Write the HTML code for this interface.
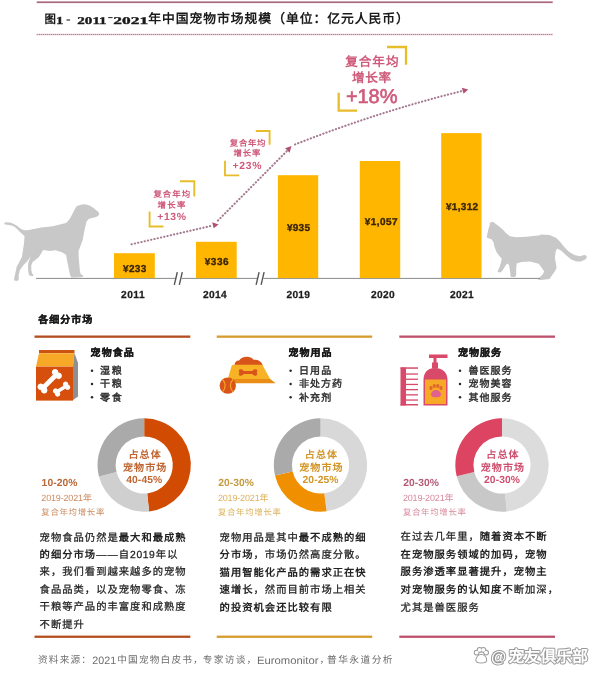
<!DOCTYPE html>
<html lang="zh-CN"><head><meta charset="utf-8">
<style>
html,body{margin:0;padding:0;background:#fff;}
body{width:600px;height:677px;overflow:hidden;position:relative;font-family:"Liberation Sans",sans-serif;}
svg{position:absolute;left:0;top:0;filter:blur(0.5px);}
svg text{font-family:"Liberation Sans",sans-serif;}
</style></head><body>
<svg text-rendering="geometricPrecision" width="600" height="677" viewBox="0 0 600 677">
<rect x="36.7" y="1.4" width="516" height="1.7" fill="#a8677a"/>
<line x1="36.7" y1="34.5" x2="553" y2="34.5" stroke="#fbe6ec" stroke-width="2.4"/>
<line x1="36.7" y1="34.5" x2="553" y2="34.5" stroke="#8f7480" stroke-width="1" stroke-dasharray="1.1 0.9"/>
<text x="44.60" y="22.94" font-size="11.5" fill="#1a1a1a" font-weight="bold">图</text>
<text x="55.90" y="24.22" font-size="10.6" fill="#1a1a1a" font-weight="bold" textLength="7.40" lengthAdjust="spacingAndGlyphs" style="font-family:'Liberation Serif',serif" stroke="#1a1a1a" stroke-width="0.35">1</text>
<rect x="66.5" y="19.4" width="3.6" height="1.2" fill="#333"/>
<text x="77.30" y="24.04" font-size="10.4" fill="#1a1a1a" font-weight="bold" textLength="29.40" lengthAdjust="spacingAndGlyphs" style="font-family:'Liberation Serif',serif" stroke="#1a1a1a" stroke-width="0.35">2011</text>
<rect x="108.2" y="17.0" width="4.4" height="1.1" fill="#333"/>
<text x="113.30" y="24.04" font-size="10.4" fill="#1a1a1a" font-weight="bold" textLength="34.80" lengthAdjust="spacingAndGlyphs" style="font-family:'Liberation Serif',serif" stroke="#1a1a1a" stroke-width="0.35">2021</text>
<text x="148.20" y="23.21" font-size="12.8" fill="#1a1a1a" font-weight="bold" textLength="260.68">年中国宠物市场规模（单位：亿元人民币）</text>
<path fill="#c8c8c8" d="M5,222.6 C10,221 15,223.8 20,228.2 C23,230.5 27,230.8 31.4,229.5 L41.4,227.6 L52.7,226.3 L58,225 L66,223 C69,221 71,217 72.6,213.6 L75.3,208.3 C76.5,206 79,204.8 84.6,204.3 C88,204.5 91,206 93.9,208.3 L97.2,211 C99,212 99.6,214 98.5,215.6 C97,217 94,217.8 91.2,218.3 L88.6,219 L86.6,221.6 L85.2,227 L83.9,233.6 L82.6,240.2 L80.6,245.5 L78.6,250.9 L78.6,256.2 L79.3,264.2 L79.9,270.8 L80.6,274.1 L83.2,275.5 L82.6,276.9 L75.3,277.5 L71.3,277.5 L70,274.8 L68.6,268.1 L67.3,261.5 L66,254.8 L62,252.2 L55.3,250.2 L50,250.9 L43,250 L41.3,253.3 L38.7,257.3 L35.3,260 L32.7,262 L31.3,265.3 L31.3,270 L32,273.3 L33.6,275.3 L32.5,276.3 L29.3,275.6 L28.3,272 L28,266.7 L28.3,262.7 L30,258 L30.7,256.3 L27.3,261.3 L23.3,265.3 L20,270 L18.7,274.7 L18.7,279.3 L18,280.7 L14.7,280.7 L14,279.3 L15.3,273.3 L16.7,266.7 L19.3,262 L22,256.7 L23,250 L24,243.3 L24.3,240 L24.5,236 C22,234 19.5,231.5 17.3,229.3 C15,226.8 12.5,225.4 9,225.1 L5.2,224.6 C4,224.2 4,222.8 5,222.6 Z"/>
<path fill="#c8c8c8" d="M489.8,222.8 L492.9,221.7 L495.5,223.8 L499.1,226.4 L502.8,229.5 L505.9,233.1 L510,236.2 L516.2,237.2 L526.6,236.7 L540,235.2 L540.8,234.5 L549.5,235 L556,237.8 L560.3,242.1 L564.7,247.5 L569,251.8 L574.4,255.1 L579.8,256.2 L584.2,255.1 L586.3,255.6 L586.9,257.3 L585.3,259.4 L580.9,261.6 L576.6,261.6 L571.2,259.4 L565.8,255.1 L561.4,250.8 L557.1,248.6 L555.5,251.8 L554.9,258.3 L556,263.8 L556.5,268.1 L554.9,271.3 L551.7,275.7 L549.5,278.9 L540.8,280 L537.6,279.5 L539.8,277.3 L543,274 L544.1,271.3 L541.9,268.1 L538.7,263.8 L530,261.6 L521.4,262 L516.7,263.6 L516.2,268.8 L516.2,275 L515.2,277.1 L511,277.1 L510.5,276 L510,270.9 L509,264.7 L506.9,263.6 L504.8,266.7 L502.2,270.9 L500.2,272.4 L497.6,271.9 L498.1,270.3 L499.7,266.7 L501.2,261.6 L501.7,258.4 L499.7,256.4 L496.6,252.2 L494.5,247.1 L493.4,241.9 L491.4,239.3 L488.3,238.3 L486.7,237.2 L487.2,234.7 L488.3,229.5 L489.8,224.8 Z"/>
<line x1="36" y1="278.4" x2="540" y2="278.4" stroke="#8a8a8a" stroke-width="1"/>
<rect x="114" y="253.2" width="40.8" height="24.9" fill="#feb600"/>
<rect x="196" y="241.8" width="40.7" height="36.3" fill="#feb600"/>
<rect x="277.9" y="175.2" width="40.3" height="102.9" fill="#feb600"/>
<rect x="359.8" y="161" width="40.4" height="117.1" fill="#feb600"/>
<rect x="441.2" y="133.1" width="40.3" height="145.0" fill="#feb600"/>
<path d="M177.0,275.5 L182.5,275.5 L181.1,281.5 L175.6,281.5 Z" fill="#fff"/>
<g stroke="#555" stroke-width="1.4"><line x1="177.3" y1="272.2" x2="174.3" y2="284.8"/><line x1="182.3" y1="272.2" x2="179.3" y2="284.8"/></g>
<path d="M258.8,275.5 L264.3,275.5 L262.9,281.5 L257.4,281.5 Z" fill="#fff"/>
<g stroke="#555" stroke-width="1.4"><line x1="259.1" y1="272.2" x2="256.1" y2="284.8"/><line x1="264.1" y1="272.2" x2="261.1" y2="284.8"/></g>
<text x="122.95" y="271.60" font-size="10" fill="#3a2404" font-weight="bold" textLength="23.40" stroke="#3a2404" stroke-width="0.35">¥233</text>
<text x="204.65" y="264.50" font-size="10" fill="#3a2404" font-weight="bold" textLength="24.00" stroke="#3a2404" stroke-width="0.35">¥336</text>
<text x="286.95" y="231.10" font-size="10" fill="#3a2404" font-weight="bold" textLength="23.00" stroke="#3a2404" stroke-width="0.35">¥935</text>
<text x="364.85" y="224.50" font-size="10" fill="#3a2404" font-weight="bold" textLength="32.60" stroke="#3a2404" stroke-width="0.35">¥1,057</text>
<text x="445.95" y="210.40" font-size="10" fill="#3a2404" font-weight="bold" textLength="32.20" stroke="#3a2404" stroke-width="0.35">¥1,312</text>
<text x="121.00" y="298.17" font-size="10.2" fill="#1c1c1c" font-weight="bold" textLength="23.60" stroke="#1c1c1c" stroke-width="0.25">2011</text>
<text x="203.10" y="298.17" font-size="10.2" fill="#1c1c1c" font-weight="bold" textLength="23.60" stroke="#1c1c1c" stroke-width="0.25">2014</text>
<text x="286.40" y="298.17" font-size="10.2" fill="#1c1c1c" font-weight="bold" textLength="23.60" stroke="#1c1c1c" stroke-width="0.25">2019</text>
<text x="371.00" y="298.17" font-size="10.2" fill="#1c1c1c" font-weight="bold" textLength="23.60" stroke="#1c1c1c" stroke-width="0.25">2020</text>
<text x="450.10" y="298.17" font-size="10.2" fill="#1c1c1c" font-weight="bold" textLength="23.60" stroke="#1c1c1c" stroke-width="0.25">2021</text>
<g stroke="#a47a90" stroke-width="2.1" stroke-linecap="round" stroke-dasharray="0.3 3.05" fill="none"><line x1="131.5" y1="244.3" x2="212.5" y2="225.6"/><line x1="218" y1="220.5" x2="286.8" y2="151.2"/><path d="M295,144.5 Q379,111.5 463,90.8"/></g>
<g fill="#b24f74"><path d="M218.6,224.4 L212.2,222.3 L213.6,228.2 Z"/><path d="M291.5,146 L285.2,148.3 L289.6,152.8 Z"/><path d="M468.2,89.4 L461.8,87.8 L463.6,93.8 Z"/></g>
<g stroke="#e8bd2c" stroke-width="2.3" fill="none"><g stroke-width="1.9"><path d="M180,181.3 H194.3 V196.5"/><path d="M149.6,211.6 V226.5 H163.5"/><path d="M255.8,131 H269.6 V144.7"/><path d="M225,160.8 V175.4 H239.3"/></g><path d="M387,47 H406 V64.7"/><path d="M338.7,92.7 V110.6 H357"/></g>
<text x="153.40" y="196.82" font-size="8.4" fill="#cf5a7a" font-weight="bold" textLength="36.60">复合年均</text>
<text x="157.60" y="207.52" font-size="8.4" fill="#cf5a7a" font-weight="bold" textLength="27.80">增长率</text>
<text x="157.20" y="220.04" font-size="10.4" fill="#cf5a7a" font-weight="bold" textLength="28.80">+13%</text>
<text x="229.80" y="145.52" font-size="8.4" fill="#cf5a7a" font-weight="bold" textLength="35.60">复合年均</text>
<text x="233.60" y="156.02" font-size="8.4" fill="#cf5a7a" font-weight="bold" textLength="26.80">增长率</text>
<text x="232.60" y="169.14" font-size="10.4" fill="#cf5a7a" font-weight="bold" textLength="28.80">+23%</text>
<text x="345.30" y="66.24" font-size="12.6" fill="#cf5a7a" font-weight="bold" textLength="53.20">复合年均</text>
<text x="351.90" y="81.54" font-size="12.6" fill="#cf5a7a" font-weight="bold" textLength="39.30">增长率</text>
<text x="345.90" y="102.50" font-size="20" fill="#cf5a7a" textLength="51.60" stroke="#cf5a7a" stroke-width="0.6">+18%</text>
<text x="38.30" y="322.80" font-size="10" fill="#1a1a1a" font-weight="bold" textLength="54.00" stroke="#1a1a1a" stroke-width="0.3">各细分市场</text>
<rect x="34.5" y="335.5" width="155.8" height="2.3" fill="#b24f1e"/>
<rect x="216.7" y="335.5" width="155.5" height="2.3" fill="#d89c2e"/>
<rect x="399.3" y="335.5" width="155.7" height="2.3" fill="#bd526c"/>
<rect x="39" y="350" width="35.5" height="3.2" fill="#cc5410"/><path d="M39,353.2 H74.5 L73,366.6 H36 Z" fill="#f7a826"/><rect x="36" y="366.6" width="37" height="34" fill="#d64f0c"/><path d="M74.5,353 L78,363 V396.5 L73,400 V366.6 Z" fill="#8f8f8f"/>
<g stroke="#fff" fill="#fff"><line x1="43.5" y1="387.5" x2="56" y2="375" stroke-width="4.6"/><circle cx="44.2" cy="390.3" r="2.8"/><circle cx="40.7" cy="386.8" r="2.8"/><circle cx="58.6" cy="375.8" r="2.8"/><circle cx="55.1" cy="372.3" r="2.8"/><line x1="57.5" y1="391.5" x2="65.5" y2="386.5" stroke-width="3.6"/><circle cx="57.6" cy="394" r="2.2"/><circle cx="55.6" cy="391" r="2.2"/><circle cx="67.6" cy="387.2" r="2.2"/><circle cx="65.6" cy="384.2" r="2.2"/></g>
<path fill="#d9541a" d="M234.6,365.6 C234.3,362.2 236.5,360.4 239.2,360.6 C240.3,358 243.2,356.7 247,356.7 C250.2,356.7 252.6,358 253.5,359.8 C257.4,359.4 261.8,361.2 262.8,365.6 Z"/><path d="M231.3,367 Q231.3,364.8 233.6,364.8 H262.3 L270.3,379.2 H227.7 Z" fill="#f7b325"/><path d="M227.7,379 H270.3 L275.7,383.3 H227.2 Z" fill="#e98d16"/><path d="M240,369.3 c1.5,-0.3 3,0.3 3.5,1.6 h9 c0.5,-1.3 2,-1.9 3.5,-1.6 c1.5,0.4 1.5,2.2 0.6,3.2 c0.9,1 0.9,2.8 -0.6,3.2 c-1.5,0.3 -3,-0.3 -3.5,-1.6 h-9 c-0.5,1.3 -2,1.9 -3.5,1.6 c-1.5,-0.4 -1.5,-2.2 -0.6,-3.2 c-0.9,-1 -0.9,-2.8 0.6,-3.2 Z" fill="#d9541a"/><circle cx="227.8" cy="385.6" r="8.2" fill="#d9541a"/><path d="M222.5,379.5 C226,383 226,388 222.5,391.8 M233,379.5 C229.5,383 229.5,388 233,391.8" stroke="#f5a524" stroke-width="1.2" fill="none"/>
<g fill="#d94a6a"><rect x="400.5" y="367.5" width="5.5" height="38"/><rect x="400.5" y="367.3" width="17.5" height="1.5"/><rect x="405" y="373.4" width="13" height="1.3"/><rect x="405" y="378.6" width="13" height="1.3"/><rect x="405" y="383.8" width="13" height="1.3"/><rect x="405" y="389" width="13" height="1.3"/><rect x="405" y="394.2" width="13" height="1.3"/><rect x="405" y="399.4" width="13" height="1.3"/><rect x="400.5" y="404" width="17.5" height="1.5"/><rect x="429" y="354.5" width="18.5" height="3.5"/><rect x="433.5" y="357" width="3" height="8"/><rect x="432" y="362.5" width="6" height="6"/><path d="M423.5,405.5 V380 C423.5,372 428,368 435,368 C442,368 447.5,372 447.5,380 V405.5 Z"/></g><rect x="425" y="379.5" width="21" height="24.5" fill="#f6a826"/><g fill="#e0652e"><ellipse cx="431" cy="388" rx="1.6" ry="2"/><ellipse cx="434.3" cy="386" rx="1.6" ry="2"/><ellipse cx="437.8" cy="386" rx="1.6" ry="2"/><ellipse cx="441" cy="388" rx="1.6" ry="2"/></g><path d="M436,390 c3,0 5,2.5 5,4.5 c0,2 -2,2.8 -5,2.8 c-3,0 -5,-0.8 -5,-2.8 c0,-2 2,-4.5 5,-4.5 Z" fill="#e06090"/>
<text x="90.60" y="355.60" font-size="10" fill="#1a1a1a" font-weight="bold" textLength="43.20" stroke="#1a1a1a" stroke-width="0.3">宠物食品</text>
<text x="288.40" y="356.00" font-size="10" fill="#1a1a1a" font-weight="bold" textLength="43.20" stroke="#1a1a1a" stroke-width="0.3">宠物用品</text>
<text x="457.90" y="356.40" font-size="10" fill="#1a1a1a" font-weight="bold" textLength="43.20" stroke="#1a1a1a" stroke-width="0.3">宠物服务</text>
<circle cx="92" cy="370.7" r="1.25" fill="#2a2a2a"/>
<text x="100.10" y="374.00" font-size="10" fill="#2a2a2a" font-weight="500" textLength="21.60" stroke="#2a2a2a" stroke-width="0.4">湿粮</text>
<circle cx="92" cy="384.0" r="1.25" fill="#2a2a2a"/>
<text x="100.10" y="387.30" font-size="10" fill="#2a2a2a" font-weight="500" textLength="21.60" stroke="#2a2a2a" stroke-width="0.4">干粮</text>
<circle cx="92" cy="397.2" r="1.25" fill="#2a2a2a"/>
<text x="100.10" y="400.50" font-size="10" fill="#2a2a2a" font-weight="500" textLength="21.60" stroke="#2a2a2a" stroke-width="0.4">零食</text>
<circle cx="290.6" cy="370.7" r="1.25" fill="#2a2a2a"/>
<text x="298.90" y="374.00" font-size="10" fill="#2a2a2a" font-weight="500" textLength="32.40" stroke="#2a2a2a" stroke-width="0.4">日用品</text>
<circle cx="290.6" cy="384.0" r="1.25" fill="#2a2a2a"/>
<text x="298.90" y="387.30" font-size="10" fill="#2a2a2a" font-weight="500" textLength="43.20" stroke="#2a2a2a" stroke-width="0.4">非处方药</text>
<circle cx="290.6" cy="397.2" r="1.25" fill="#2a2a2a"/>
<text x="298.90" y="400.50" font-size="10" fill="#2a2a2a" font-weight="500" textLength="32.40" stroke="#2a2a2a" stroke-width="0.4">补充剂</text>
<circle cx="460" cy="370.7" r="1.25" fill="#2a2a2a"/>
<text x="468.40" y="374.00" font-size="10" fill="#2a2a2a" font-weight="500" textLength="43.20" stroke="#2a2a2a" stroke-width="0.4">兽医服务</text>
<circle cx="460" cy="384.0" r="1.25" fill="#2a2a2a"/>
<text x="468.40" y="387.30" font-size="10" fill="#2a2a2a" font-weight="500" textLength="43.20" stroke="#2a2a2a" stroke-width="0.4">宠物美容</text>
<circle cx="460" cy="397.2" r="1.25" fill="#2a2a2a"/>
<text x="468.40" y="400.50" font-size="10" fill="#2a2a2a" font-weight="500" textLength="43.20" stroke="#2a2a2a" stroke-width="0.4">其他服务</text>
<path fill="#d24b02" d="M144.20,418.30 A46.70,46.70 0 0 1 149.08,511.44 L147.19,493.44 A28.60,28.60 0 0 0 144.20,436.40 Z"/>
<path fill="#cfcfcf" d="M149.08,511.44 A46.70,46.70 0 0 1 98.95,476.53 L116.49,472.06 A28.60,28.60 0 0 0 147.19,493.44 Z"/>
<path fill="#aaaaaa" d="M98.95,476.53 A46.70,46.70 0 0 1 144.19,418.30 L144.20,436.40 A28.60,28.60 0 0 0 116.49,472.06 Z"/>
<path fill="#d8d8d8" d="M320.50,418.30 A46.70,46.70 0 0 1 326.60,511.30 L324.23,493.36 A28.60,28.60 0 0 0 320.50,436.40 Z"/>
<path fill="#f09000" d="M326.60,511.30 A46.70,46.70 0 0 1 275.00,475.51 L292.63,471.43 A28.60,28.60 0 0 0 324.23,493.36 Z"/>
<path fill="#aaaaaa" d="M275.00,475.51 A46.70,46.70 0 0 1 320.49,418.30 L320.50,436.40 A28.60,28.60 0 0 0 292.63,471.43 Z"/>
<path fill="#dcdcdc" d="M502.00,418.30 A46.70,46.70 0 0 1 506.88,511.44 L504.99,493.44 A28.60,28.60 0 0 0 502.00,436.40 Z"/>
<path fill="#c8c8c8" d="M506.88,511.44 A46.70,46.70 0 0 1 456.69,476.30 L474.25,471.92 A28.60,28.60 0 0 0 504.99,493.44 Z"/>
<path fill="#dd4462" d="M456.69,476.30 A46.70,46.70 0 0 1 501.99,418.30 L502.00,436.40 A28.60,28.60 0 0 0 474.25,471.92 Z"/>
<text x="128.40" y="457.70" font-size="10" fill="#c06530" font-weight="bold" textLength="32.40">占总体</text>
<text x="123.00" y="470.80" font-size="10" fill="#c06530" font-weight="bold" textLength="43.20">宠物市场</text>
<text x="126.20" y="482.71" font-size="10.3" fill="#c06530" font-weight="bold" textLength="36.00">40-45%</text>
<text x="304.70" y="457.70" font-size="10" fill="#d29628" font-weight="bold" textLength="32.40">占总体</text>
<text x="299.30" y="470.80" font-size="10" fill="#d29628" font-weight="bold" textLength="43.20">宠物市场</text>
<text x="302.50" y="482.71" font-size="10.3" fill="#d29628" font-weight="bold" textLength="36.00">20-25%</text>
<text x="486.20" y="457.70" font-size="10" fill="#cf4f6e" font-weight="bold" textLength="32.40">占总体</text>
<text x="480.80" y="470.80" font-size="10" fill="#cf4f6e" font-weight="bold" textLength="43.20">宠物市场</text>
<text x="484.00" y="482.71" font-size="10.3" fill="#cf4f6e" font-weight="bold" textLength="36.00">20-30%</text>
<text x="41.60" y="486.01" font-size="10.3" fill="#b8693a" font-weight="bold" textLength="35.80">10-20%</text>
<text x="41.30" y="501.04" font-size="9" fill="#cc8b60" font-weight="500" textLength="50.60">2019-2021年</text>
<text x="41.30" y="514.72" font-size="8.4" fill="#cc8b60" font-weight="500" textLength="63.00">复合年均增长率</text>
<text x="218.20" y="486.01" font-size="10.3" fill="#c49a3c" font-weight="bold" textLength="35.80">20-30%</text>
<text x="217.90" y="501.04" font-size="9" fill="#dcb25c" font-weight="500" textLength="50.60">2019-2021年</text>
<text x="217.90" y="514.72" font-size="8.4" fill="#dcb25c" font-weight="500" textLength="63.00">复合年均增长率</text>
<text x="403.20" y="486.01" font-size="10.3" fill="#b45a74" font-weight="bold" textLength="35.80">20-30%</text>
<text x="402.90" y="501.04" font-size="9" fill="#d98a9e" font-weight="500" textLength="50.60">2019-2021年</text>
<text x="402.90" y="514.72" font-size="8.4" fill="#d98a9e" font-weight="500" textLength="63.00">复合年均增长率</text>
<text x="39.60" y="540.51" font-size="10.3" fill="#222" font-weight="500" stroke="#222" stroke-width="0.25" letter-spacing="1.01" textLength="79.17">宠物食品仍然是</text>
<text x="118.77" y="540.51" font-size="10.3" fill="#222" font-weight="bold" letter-spacing="1.01" textLength="67.86">最大和最成熟</text>
<text x="39.60" y="557.61" font-size="10.3" fill="#222" font-weight="bold" letter-spacing="1.01" textLength="56.55">的细分市场</text>
<text x="96.15" y="557.61" font-size="10.3" fill="#222" font-weight="500" stroke="#222" stroke-width="0.25" letter-spacing="1.01" textLength="33.93">——自</text>
<text x="130.08" y="557.61" font-size="10.3" fill="#222" font-weight="500" stroke="#222" stroke-width="0.25" letter-spacing="1.01" textLength="25.79">2019</text>
<text x="155.87" y="557.61" font-size="10.3" fill="#222" font-weight="500" stroke="#222" stroke-width="0.25" letter-spacing="1.01" textLength="22.62">年以</text>
<text x="39.60" y="574.71" font-size="10.3" fill="#222" font-weight="500" stroke="#222" stroke-width="0.25" letter-spacing="1.01" textLength="147.03">来，我们看到越来越多的宠物</text>
<text x="39.60" y="592.51" font-size="10.3" fill="#222" font-weight="500" stroke="#222" stroke-width="0.25" letter-spacing="1.01" textLength="147.03">食品品类，以及宠物零食、冻</text>
<text x="39.60" y="610.01" font-size="10.3" fill="#222" font-weight="500" stroke="#222" stroke-width="0.25" letter-spacing="1.01" textLength="147.03">干粮等产品的丰富度和成熟度</text>
<text x="39.60" y="627.91" font-size="10.3" fill="#222" font-weight="500" stroke="#222" stroke-width="0.25" letter-spacing="1.01" textLength="45.24">不断提升</text>
<text x="219.60" y="540.51" font-size="10.3" fill="#222" font-weight="500" stroke="#222" stroke-width="0.25" letter-spacing="1.01" textLength="79.17">宠物用品是其中</text>
<text x="298.77" y="540.51" font-size="10.3" fill="#222" font-weight="bold" letter-spacing="1.01" textLength="67.86">最不成熟的细</text>
<text x="219.60" y="558.41" font-size="10.3" fill="#222" font-weight="bold" letter-spacing="1.01" textLength="33.93">分市场</text>
<text x="253.53" y="558.41" font-size="10.3" fill="#222" font-weight="500" stroke="#222" stroke-width="0.25" letter-spacing="1.01" textLength="113.10">，市场仍然高度分散。</text>
<text x="219.60" y="575.51" font-size="10.3" fill="#222" font-weight="bold" letter-spacing="1.01" textLength="147.03">猫用智能化产品的需求正在快</text>
<text x="219.60" y="593.41" font-size="10.3" fill="#222" font-weight="bold" letter-spacing="1.01" textLength="33.93">速增长</text>
<text x="253.53" y="593.41" font-size="10.3" fill="#222" font-weight="500" stroke="#222" stroke-width="0.25" letter-spacing="1.01" textLength="113.10">，然而目前市场上相关</text>
<text x="219.60" y="610.81" font-size="10.3" fill="#222" font-weight="bold" letter-spacing="1.01" textLength="113.10">的投资机会还比较有限</text>
<text x="400.60" y="540.11" font-size="10.3" fill="#222" font-weight="500" stroke="#222" stroke-width="0.25" letter-spacing="1.01" textLength="79.17">在过去几年里，</text>
<text x="479.77" y="540.11" font-size="10.3" fill="#222" font-weight="bold" letter-spacing="1.01" textLength="67.86">随着资本不断</text>
<text x="400.60" y="557.61" font-size="10.3" fill="#222" font-weight="bold" letter-spacing="1.01" textLength="147.03">在宠物服务领域的加码，宠物</text>
<text x="400.60" y="575.11" font-size="10.3" fill="#222" font-weight="bold" letter-spacing="1.01" textLength="147.03">服务渗透率显著提升，宠物主</text>
<text x="400.60" y="592.91" font-size="10.3" fill="#222" font-weight="bold" letter-spacing="1.01" textLength="101.79">对宠物服务的认知度</text>
<text x="502.39" y="592.91" font-size="10.3" fill="#222" font-weight="500" stroke="#222" stroke-width="0.25" letter-spacing="1.01" textLength="56.55">不断加深，</text>
<text x="400.60" y="610.81" font-size="10.3" fill="#222" font-weight="500" stroke="#222" stroke-width="0.25" letter-spacing="1.01" textLength="79.17">尤其是兽医服务</text>
<rect x="34.5" y="635.6" width="155.8" height="2.3" fill="#b24f1e"/>
<rect x="216.7" y="635.6" width="155.5" height="2.3" fill="#d89c2e"/>
<rect x="399.3" y="635.6" width="155.7" height="2.3" fill="#bd526c"/>
<text x="38.00" y="663.49" font-size="9.7" fill="#6e6e6e" textLength="53.00">资料来源：</text>
<text x="92.30" y="663.75" font-size="10.7" fill="#6e6e6e" textLength="23.80">2021</text>
<text x="117.30" y="663.49" font-size="9.7" fill="#6e6e6e" textLength="85.40">中国宠物白皮书，</text>
<text x="202.80" y="663.49" font-size="9.7" fill="#6e6e6e" textLength="53.50">专家访谈，</text>
<text x="257.10" y="663.82" font-size="10.6" fill="#6e6e6e" textLength="61.30" lengthAdjust="spacingAndGlyphs">Euromonitor</text>
<text x="319.60" y="663.49" font-size="9.7" fill="#6e6e6e">，</text>
<text x="327.00" y="663.49" font-size="9.7" fill="#6e6e6e" textLength="65.50">普华永道分析</text>
<defs><filter id="sb" x="-10%" y="-30%" width="120%" height="160%"><feGaussianBlur stdDeviation="0.55"/></filter></defs>
<g fill="#fff" stroke="#9a9a9a" stroke-width="2.0" stroke-linejoin="round" filter="url(#sb)">
<text x="491.00" y="661.88" font-size="15.5" fill="#fff" font-weight="bold" textLength="13.50">@</text>
<text x="508.50" y="661.56" font-size="16" fill="#fff" font-weight="bold" textLength="79.50">宠友俱乐部</text>
<circle cx="476.6" cy="652.6" r="1.9"/><circle cx="479.6" cy="649.9" r="1.9"/><circle cx="483.3" cy="649.9" r="1.9"/><circle cx="486.1" cy="652.6" r="1.9"/><path d="M476.4,660.5 C476.4,656.8 478.8,655 481.3,655 C483.8,655 486.2,656.8 486.2,660.5 C486.2,663.2 476.4,663.2 476.4,660.5 Z"/>
</g>
<g fill="#fff" stroke="none" stroke-width="0" stroke-linejoin="round">
<text x="491.00" y="661.88" font-size="15.5" fill="#fff" font-weight="bold" textLength="13.50">@</text>
<text x="508.50" y="661.56" font-size="16" fill="#fff" font-weight="bold" textLength="79.50">宠友俱乐部</text>
<circle cx="476.6" cy="652.6" r="1.9"/><circle cx="479.6" cy="649.9" r="1.9"/><circle cx="483.3" cy="649.9" r="1.9"/><circle cx="486.1" cy="652.6" r="1.9"/><path d="M476.4,660.5 C476.4,656.8 478.8,655 481.3,655 C483.8,655 486.2,656.8 486.2,660.5 C486.2,663.2 476.4,663.2 476.4,660.5 Z"/>
</g>
</svg>
</body></html>
